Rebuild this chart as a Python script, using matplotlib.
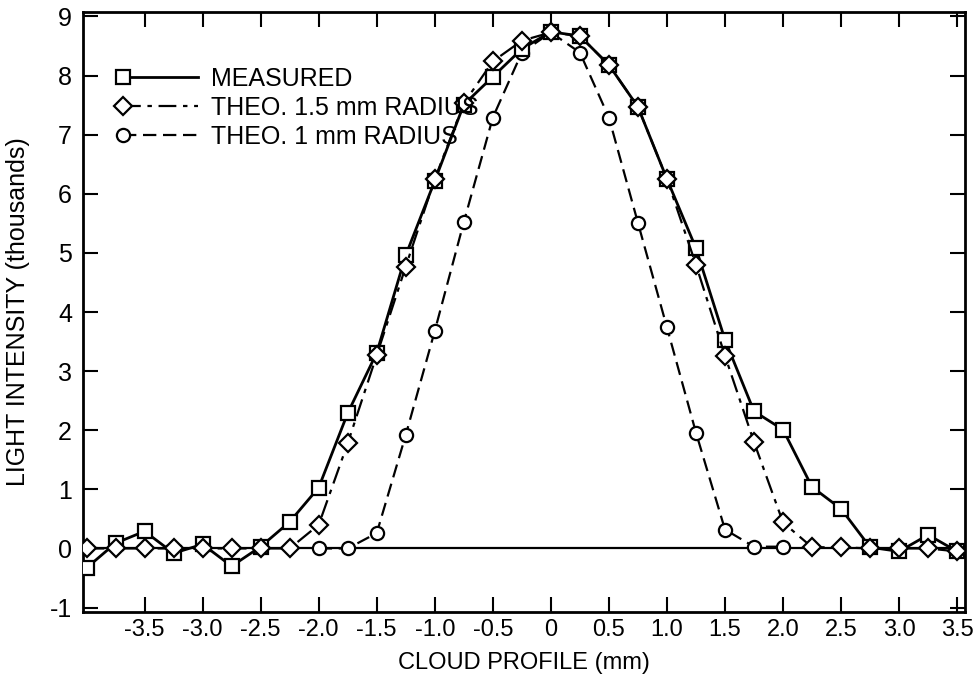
import numpy as np
import matplotlib
matplotlib.use("Agg")
import matplotlib.pyplot as plt
from matplotlib.legend_handler import HandlerLine2D

plt.rcParams['font.family'] = ['Liberation Sans', 'DejaVu Sans']

# Data (cloud profile positions in mm, intensities in thousands)
x_mm = [-4.0, -3.75, -3.5, -3.25, -3.0, -2.75, -2.5, -2.25, -2.0, -1.75, -1.5, -1.25,
        -1.0, -0.75, -0.5, -0.25, 0.0, 0.25, 0.5, 0.75, 1.0, 1.25, 1.5, 1.75, 2.0,
        2.25, 2.5, 2.75, 3.0, 3.25, 3.5]
measured = [-0.33, 0.09, 0.29, -0.08, 0.07, -0.30, 0.03, 0.45, 1.03, 2.29, 3.31, 4.96,
            6.22, 7.51, 7.98, 8.45, 8.74, 8.67, 8.18, 7.47, 6.25, 5.08, 3.53, 2.32, 2.01,
            1.04, 0.67, 0.02, -0.05, 0.23, -0.05]
theo_15 = [0.0, 0.0, 0.0, 0.0, 0.0, 0.0, 0.0, 0.0, 0.40, 1.78, 3.27, 4.77,
           6.25, 7.53, 8.24, 8.59, 8.73, 8.67, 8.18, 7.47, 6.25, 4.80, 3.26, 1.80, 0.44,
           0.02, 0.02, 0.0, 0.0, 0.0, -0.05]
x_1mm = [-2.0, -1.75, -1.5, -1.25, -1.0, -0.75, -0.5, -0.25, 0.0, 0.25, 0.5, 0.75,
         1.0, 1.25, 1.5, 1.75, 2.0]
theo_10 = [0.0, 0.0, 0.26, 1.92, 3.68, 5.52, 7.29, 8.39, 8.73, 8.39, 7.29, 5.51,
           3.74, 1.96, 0.32, 0.03, 0.03]

xticks = [-3.5, -3.0, -2.5, -2.0, -1.5, -1.0, -0.5, 0.0, 0.5, 1.0, 1.5, 2.0, 2.5, 3.0, 3.5]
xticklabels = ['-3.5', '-3.0', '-2.5', '-2.0', '-1.5', '-1.0', '-0.5', '0', '0.5', '1.0',
               '1.5', '2.0', '2.5', '3.0', '3.5']
yticks = [-1, 0, 1, 2, 3, 4, 5, 6, 7, 8, 9]


class LeftMarker(HandlerLine2D):
    def create_artists(self, *args, **kwargs):
        arts = super().create_artists(*args, **kwargs)
        arts[0].set_markevery([0])
        return arts


fig = plt.figure(figsize=(9.77, 6.85), dpi=100)
ax = fig.add_axes([0.085, 0.107, 0.903, 0.875])

ax.axhline(0, color='black', lw=1.6, zorder=1)

mk = dict(markerfacecolor='white', markeredgecolor='black', markeredgewidth=1.6, color='black')
ax.plot(x_1mm, theo_10, linestyle=(0, (6, 3)), lw=1.6, marker='o', markersize=9.5,
        label='THEO. 1 mm RADIUS', zorder=3, **mk)
ax.plot(x_mm, measured, linestyle='-', lw=2.0, marker='s', markersize=9.5,
        label='MEASURED', zorder=4, **mk)
ax.plot(x_mm, theo_15, linestyle=(0, (8, 3, 2, 3)), lw=1.6, marker='D', markersize=9,
        label='THEO. 1.5 mm RADIUS', zorder=5, **mk)

ax.set_xlim(-4.03, 3.57)
ax.set_ylim(-1.07, 9.07)
ax.set_xticks(xticks)
ax.set_xticklabels(xticklabels)
ax.set_yticks(yticks)
ax.set_yticklabels([str(v) for v in yticks])
ax.tick_params(direction='in', length=11, width=1.5, top=True, right=True,
               labeltop=False, labelright=False, labelsize=17, pad=5)
ax.tick_params(axis='y', labelsize=18, pad=8)
for s in ax.spines.values():
    s.set_linewidth(2)

ax.set_xlabel('CLOUD PROFILE (mm)', fontsize=17, labelpad=8)
ax.set_ylabel('LIGHT INTENSITY (thousands)', fontsize=18, labelpad=14)

h, l = ax.get_legend_handles_labels()
order = [1, 2, 0]
ax.legend([h[i] for i in order], [l[i] for i in order], loc='upper left',
          bbox_to_anchor=(0.02, 0.947), frameon=False, fontsize=18,
          handlelength=3.0, handletextpad=0.5, labelspacing=0.2, numpoints=1,
          handler_map={matplotlib.lines.Line2D: LeftMarker()})

fig.savefig('out.png', dpi=100)
